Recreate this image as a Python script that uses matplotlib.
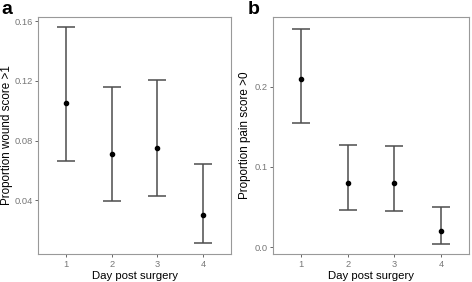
import numpy as np
import matplotlib
matplotlib.use("Agg")
import matplotlib.pyplot as plt

plt.rcParams['font.family'] = ['Liberation Sans', 'DejaVu Sans']

days = [1, 2, 3, 4]
day_labels = ["1", "2", "3", "4"]

# panel a: wound score > 1
wound_prop = [0.105, 0.0707, 0.0752, 0.0303]
wound_low = [0.0663, 0.0395, 0.0426, 0.0113]
wound_high = [0.156, 0.1157, 0.1207, 0.0643]
wound_ticks = [0.04, 0.08, 0.12, 0.16]

# panel b: pain score > 0
pain_prop = [0.2094, 0.0805, 0.080, 0.0199]
pain_low = [0.155, 0.0463, 0.0455, 0.0045]
pain_high = [0.2716, 0.1277, 0.1264, 0.050]
pain_ticks = [0.0, 0.1, 0.2]

fig = plt.figure(figsize=(4.72, 2.82), dpi=100)
ax_a = fig.add_axes([0.081, 0.099, 0.408, 0.841])
ax_b = fig.add_axes([0.578, 0.099, 0.416, 0.841])


def draw_panel(ax, prop, low, high, ticks, ylim, ylabel, fmt, ypad):
    prop = np.array(prop)
    err = [prop - np.array(low), np.array(high) - prop]
    ax.errorbar(days, prop, yerr=err, fmt='o', color='black', ms=3,
                ecolor='#4d4d4d', elinewidth=1.1, capsize=6.2, capthick=1.1)
    ax.set_xlim(0.4, 4.6)
    ax.set_ylim(*ylim)
    ax.set_xticks(days)
    ax.set_xticklabels(day_labels)
    ax.set_yticks(ticks)
    ax.set_yticklabels([fmt.format(t) for t in ticks])
    ax.tick_params(labelsize=6.7, colors='#4d4d4d', length=2.5, width=0.6, pad=1.5)
    ax.tick_params(axis='both', labelcolor='#777777')
    for s in ax.spines.values():
        s.set_color('#999999')
        s.set_linewidth(0.8)
    ax.set_xlabel("Day post surgery", fontsize=8.2, labelpad=2)
    ax.set_ylabel(ylabel, fontsize=8.4, labelpad=ypad)


draw_panel(ax_a, wound_prop, wound_low, wound_high, wound_ticks,
           (0.0038, 0.163), "Proportion wound score >1", "{:.2f}", 1)
draw_panel(ax_b, pain_prop, pain_low, pain_high, pain_ticks,
           (-0.0083, 0.2865), "Proportion pain score >0", "{:.1f}", 2)

fig.text(0.003, 0.995, "a", fontsize=14, fontweight='bold', va='top', ha='left')
fig.text(0.524, 0.995, "b", fontsize=14, fontweight='bold', va='top', ha='left')

fig.savefig("out.png", dpi=100)
